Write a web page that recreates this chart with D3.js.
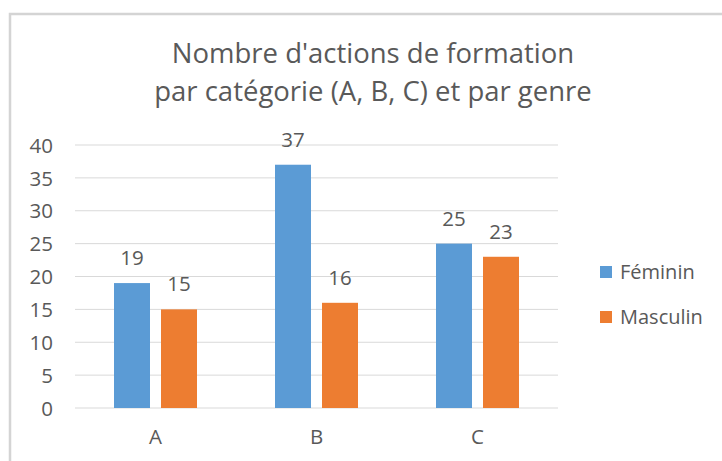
<!DOCTYPE html>
<html>
<head>
<meta charset="utf-8">
<script src="https://cdn.jsdelivr.net/npm/d3@7"></script>
<style>
  body { margin: 0; background: #fff; }
  text { font-family: "Open Sans", sans-serif; fill: #595959; }
</style>
</head>
<body>
<div id="chart"></div>
<script>
// data
const categories = ["A", "B", "C"];
const series_names = ["Féminin", "Masculin"];
const feminin = [19, 37, 25];
const masculin = [15, 16, 23];
const y_ticks = [0, 5, 10, 15, 20, 25, 30, 35, 40];
const title_lines = ["Nombre d'actions de formation", "par catégorie (A, B, C) et par genre"];

const width = 722;
const height = 461;
const colors = ["#5B9BD5", "#ED7D31"];

// plot area
const plot_left = 75, plot_right = 558, plot_top = 145, plot_bottom = 408;

let svg = d3.select("#chart").append("svg")
	.attr("width", width)
	.attr("height", height);

// chart frame (only top and left edges are visible)
svg.append("rect")
	.attr("x", 10)
	.attr("y", 14)
	.attr("width", width + 20)
	.attr("height", height + 20)
	.attr("fill", "none")
	.attr("stroke", "#d4d4d4")
	.attr("stroke-width", 2.5);

// title
svg.append("text")
	.attr("text-anchor", "middle")
	.attr("font-size", 27.5)
	.selectAll("tspan")
	.data(title_lines)
	.join("tspan")
	.attr("x", 373)
	.attr("y", (d, i) => 63 + i * 38)
	.text(d => d);

const x = d3.scaleBand()
	.domain(categories)
	.range([plot_left, plot_right]);

const y = d3.scaleLinear()
	.domain([0, 40])
	.range([plot_bottom, plot_top]);

// gridlines
svg.append("g")
	.selectAll("line")
	.data(y_ticks)
	.join("line")
	.attr("x1", plot_left)
	.attr("x2", plot_right)
	.attr("y1", d => y(d))
	.attr("y2", d => y(d))
	.attr("stroke", "#d9d9d9")
	.attr("stroke-width", 1);

// y axis labels
let y_axis = svg.append("g")
	.attr("transform", `translate(${plot_left - 22},0)`)
	.call(d3.axisLeft(y).tickValues(y_ticks).tickSize(0).tickPadding(0));
y_axis.select(".domain").remove();
y_axis.selectAll("text")
	.attr("font-size", 20.5)
	.attr("font-family", "Open Sans, sans-serif")
	.attr("fill", "#595959")
	.attr("dy", "0.35em");

// x axis labels
let x_axis = svg.append("g")
	.attr("transform", `translate(0,${plot_bottom})`)
	.call(d3.axisBottom(x).tickSize(0).tickPadding(21));
x_axis.select(".domain").remove();
x_axis.selectAll("text")
	.attr("font-size", 20.5)
	.attr("font-family", "Open Sans, sans-serif")
	.attr("fill", "#595959");

// bars
const bar_w = 36, bar_gap = 11;
const all_series = [feminin, masculin];
all_series.forEach(function(values, s) {
	const offset = s === 0 ? -(bar_gap / 2 + bar_w) : bar_gap / 2;
	let g = svg.append("g");
	g.selectAll("rect")
		.data(values)
		.join("rect")
		.attr("x", (d, i) => x(categories[i]) + x.bandwidth() / 2 + offset)
		.attr("y", d => y(d))
		.attr("width", bar_w)
		.attr("height", d => y(0) - y(d))
		.attr("fill", colors[s]);
	g.selectAll("text")
		.data(values)
		.join("text")
		.attr("x", (d, i) => x(categories[i]) + x.bandwidth() / 2 + offset + bar_w / 2)
		.attr("y", d => y(d) - 18)
		.attr("text-anchor", "middle")
		.attr("font-size", 20.5)
		.text(d => d);
});

// legend
let legend = svg.append("g")
	.selectAll("g")
	.data(series_names)
	.join("g")
	.attr("transform", (d, i) => `translate(600,${266 + i * 45})`);
legend.append("rect")
	.attr("width", 12)
	.attr("height", 12)
	.attr("fill", (d, i) => colors[i]);
legend.append("text")
	.attr("x", 20)
	.attr("y", 6)
	.attr("dy", "0.35em")
	.attr("font-size", 20)
	.text(d => d);
</script>
</body>
</html>
